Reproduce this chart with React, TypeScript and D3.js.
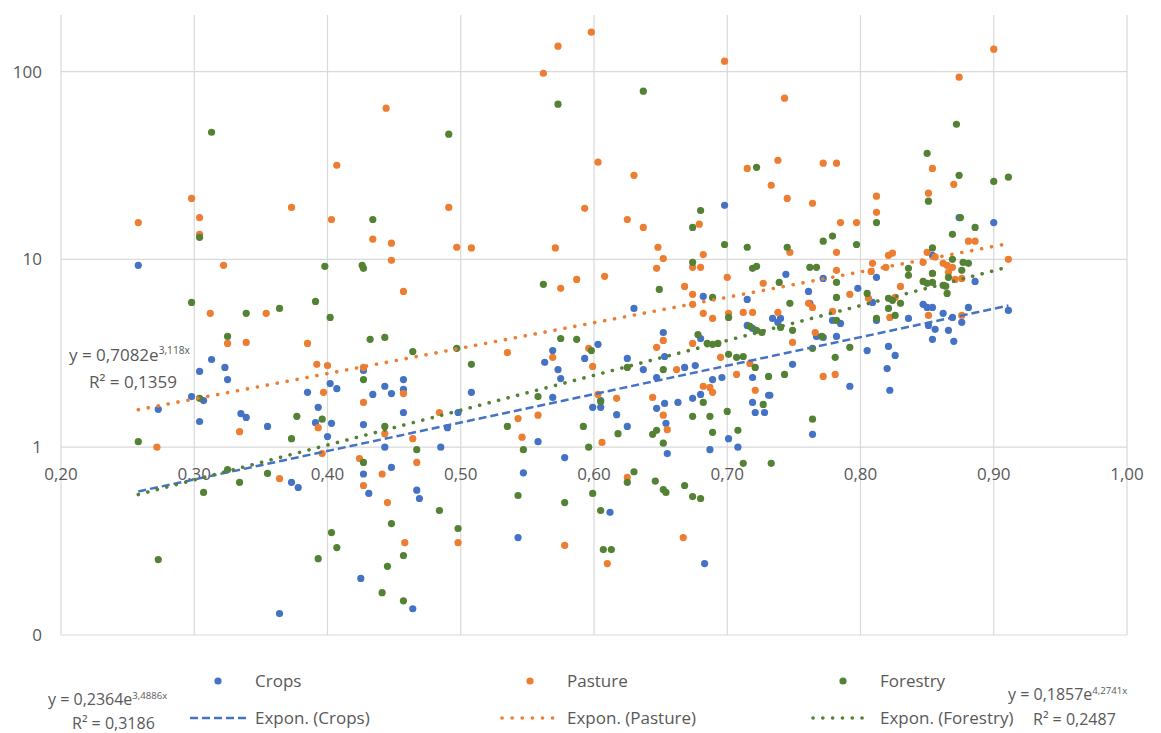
import React from "react";
import * as d3 from "d3";

// ---------- data ----------
const seriesNames = ["Crops", "Pasture", "Forestry"];
const xTickValues = [0.2, 0.3, 0.4, 0.5, 0.6, 0.7, 0.8, 0.9, 1.0];
const yTickValues = [0.1, 1, 10, 100];
const yTickLabels = ["0", "1", "10", "100"];

const crops: [number, number][] = [
  [0.258, 9.3], [0.273, 1.59], [0.313, 2.93], [0.304, 2.53], [0.323, 2.66], [0.325, 2.29],
  [0.298, 1.86], [0.307, 1.77], [0.304, 1.37], [0.335, 1.51], [0.339, 1.44], [0.355, 1.29],
  [0.385, 1.96], [0.402, 2.18], [0.407, 2.05], [0.393, 1.63], [0.391, 1.35], [0.403, 1.34],
  [0.4, 1.14], [0.373, 0.65], [0.378, 0.61], [0.364, 0.13], [0.425, 0.2], [0.431, 0.567],
  [0.427, 0.72], [0.448, 0.78], [0.443, 1.0], [0.427, 1.32], [0.434, 1.91], [0.443, 2.11],
  [0.448, 1.93], [0.427, 2.56], [0.457, 2.29], [0.457, 2.03], [0.457, 1.53], [0.485, 1.0],
  [0.49, 1.27], [0.498, 1.53], [0.508, 1.96], [0.467, 0.59], [0.469, 0.533], [0.464, 0.138],
  [0.558, 1.07], [0.547, 0.73], [0.543, 0.33], [0.578, 0.88], [0.569, 3.27], [0.563, 2.83],
  [0.573, 2.59], [0.575, 2.32], [0.569, 1.84], [0.603, 3.53], [0.593, 2.97], [0.625, 2.97],
  [0.63, 5.48], [0.637, 2.59], [0.605, 1.77], [0.599, 1.63], [0.605, 1.63], [0.617, 1.49],
  [0.625, 1.29], [0.612, 0.45], [0.652, 4.08], [0.653, 3.04], [0.647, 2.35], [0.647, 1.61],
  [0.653, 1.71], [0.654, 1.34], [0.655, 0.925], [0.668, 2.66], [0.676, 2.72], [0.663, 1.73],
  [0.674, 1.82], [0.68, 1.91], [0.682, 6.35], [0.68, 3.79], [0.689, 2.29], [0.696, 2.35],
  [0.687, 0.97], [0.701, 1.11], [0.708, 1.0], [0.683, 0.24], [0.698, 19.4], [0.715, 6.12],
  [0.719, 4.29], [0.715, 4.45], [0.734, 4.85], [0.738, 4.62], [0.719, 2.35], [0.719, 1.73],
  [0.721, 1.53], [0.728, 1.53], [0.731, 1.89], [0.744, 8.32], [0.772, 7.92], [0.74, 4.85],
  [0.761, 6.75], [0.762, 5.83], [0.749, 2.76], [0.732, 1.89], [0.764, 1.17], [0.779, 4.73],
  [0.785, 4.56], [0.767, 3.89], [0.772, 3.84], [0.782, 3.89], [0.792, 2.11], [0.798, 7.01],
  [0.805, 3.27], [0.812, 8.02], [0.809, 5.9], [0.812, 4.73], [0.821, 3.44], [0.826, 3.08],
  [0.82, 2.62], [0.822, 2.01], [0.836, 4.85], [0.847, 5.76], [0.854, 5.55], [0.85, 5.55],
  [0.862, 5.16], [0.869, 4.91], [0.876, 4.62], [0.881, 5.55], [0.851, 4.45], [0.856, 4.24],
  [0.866, 4.19], [0.854, 3.75], [0.87, 3.66], [0.886, 7.63], [0.854, 10.5], [0.874, 16.7],
  [0.9, 15.7], [0.911, 5.35],
];

const pasture: [number, number][] = [
  [0.258, 15.7], [0.272, 1.0], [0.298, 21.1], [0.304, 16.7], [0.304, 13.6], [0.312, 5.16],
  [0.325, 3.57], [0.339, 3.61], [0.322, 9.3], [0.334, 1.21], [0.373, 18.9], [0.385, 3.57],
  [0.354, 5.16], [0.364, 0.68], [0.392, 2.76], [0.4, 2.72], [0.397, 1.96], [0.393, 1.27],
  [0.396, 0.925], [0.403, 16.3], [0.407, 31.7], [0.434, 12.8], [0.448, 12.2], [0.444, 63.8],
  [0.448, 9.88], [0.457, 6.75], [0.424, 0.87], [0.427, 2.66], [0.427, 1.73], [0.427, 0.625],
  [0.441, 0.72], [0.445, 0.507], [0.443, 1.18], [0.457, 1.93], [0.464, 1.11], [0.467, 0.83],
  [0.458, 0.31], [0.484, 1.53], [0.491, 18.9], [0.497, 11.6], [0.508, 11.5], [0.498, 0.31],
  [0.535, 3.19], [0.543, 1.42], [0.546, 1.13], [0.558, 1.48], [0.562, 97.9], [0.573, 136.4],
  [0.571, 11.5], [0.575, 7.01], [0.587, 7.82], [0.569, 3.01], [0.578, 0.3], [0.593, 18.7],
  [0.598, 162], [0.603, 32.9], [0.608, 8.12], [0.596, 3.36], [0.599, 2.69], [0.603, 1.91],
  [0.617, 1.82], [0.606, 1.06], [0.61, 0.24], [0.625, 16.3], [0.63, 28.0], [0.637, 14.8],
  [0.625, 0.69], [0.647, 8.96], [0.652, 10.1], [0.648, 11.6], [0.652, 3.7], [0.647, 3.4],
  [0.644, 1.84], [0.652, 1.48], [0.655, 1.24], [0.662, 2.59], [0.668, 7.18], [0.674, 6.51],
  [0.674, 5.76], [0.674, 9.07], [0.68, 9.07], [0.682, 10.6], [0.679, 15.4], [0.682, 5.16],
  [0.689, 4.85], [0.674, 3.57], [0.682, 2.11], [0.687, 2.08], [0.689, 1.96], [0.667, 0.33],
  [0.698, 113.5], [0.7, 8.02], [0.701, 5.16], [0.695, 3.01], [0.707, 2.44], [0.712, 5.22],
  [0.719, 5.22], [0.717, 2.79], [0.721, 2.01], [0.715, 30.5], [0.733, 24.8], [0.738, 33.7],
  [0.743, 72.1], [0.745, 21.1], [0.764, 19.9], [0.772, 32.5], [0.782, 32.5], [0.738, 5.22],
  [0.747, 10.9], [0.727, 7.45], [0.749, 3.61], [0.761, 5.83], [0.764, 5.55], [0.766, 4.08],
  [0.772, 2.38], [0.781, 2.44], [0.779, 5.28], [0.782, 8.74], [0.782, 10.9], [0.785, 15.7],
  [0.797, 15.7], [0.792, 6.51], [0.806, 6.2], [0.808, 8.63], [0.809, 9.52], [0.812, 21.7],
  [0.812, 17.8], [0.819, 9.07], [0.821, 10.5], [0.824, 10.8], [0.83, 7.18], [0.826, 6.27],
  [0.822, 4.91], [0.847, 9.64], [0.85, 10.9], [0.851, 22.5], [0.854, 30.5], [0.856, 10.3],
  [0.862, 9.52], [0.865, 9.29], [0.869, 9.07], [0.866, 8.53], [0.854, 8.42], [0.876, 7.92],
  [0.871, 7.82], [0.851, 5.03], [0.876, 5.03], [0.87, 25.1], [0.874, 93.3], [0.881, 12.5],
  [0.886, 12.5], [0.9, 131.5], [0.911, 10.0],
];

const forestry: [number, number][] = [
  [0.258, 1.07], [0.273, 0.252], [0.298, 5.9], [0.304, 13.1], [0.304, 1.82], [0.313, 47.5],
  [0.307, 0.574], [0.325, 3.89], [0.325, 0.76], [0.334, 0.65], [0.339, 5.16], [0.355, 0.725],
  [0.364, 5.48], [0.373, 1.11], [0.377, 1.46], [0.391, 5.97], [0.398, 9.18], [0.402, 4.91],
  [0.393, 0.255], [0.396, 1.41], [0.403, 0.351], [0.407, 0.292], [0.427, 0.83], [0.427, 2.29],
  [0.432, 3.75], [0.443, 3.84], [0.434, 16.3], [0.426, 9.3], [0.427, 8.96], [0.441, 0.168],
  [0.445, 0.232], [0.448, 0.392], [0.443, 1.29], [0.457, 0.265], [0.457, 0.152], [0.464, 3.23],
  [0.467, 0.97], [0.484, 0.46], [0.491, 46.4], [0.497, 3.36], [0.498, 0.369], [0.508, 2.76],
  [0.535, 1.29], [0.547, 0.97], [0.543, 0.553], [0.562, 7.36], [0.573, 67.0], [0.575, 3.79],
  [0.587, 3.75], [0.558, 1.86], [0.578, 0.507], [0.592, 1.29], [0.598, 3.27], [0.596, 1.0],
  [0.599, 0.567], [0.605, 1.75], [0.605, 0.46], [0.607, 0.285], [0.613, 0.285], [0.618, 1.18],
  [0.625, 2.66], [0.63, 0.74], [0.625, 0.65], [0.637, 78.6], [0.649, 6.92], [0.652, 2.59],
  [0.652, 1.05], [0.644, 1.17], [0.647, 1.23], [0.646, 0.66], [0.652, 0.595], [0.654, 0.574],
  [0.668, 0.625], [0.674, 9.64], [0.674, 14.8], [0.68, 18.2], [0.678, 3.98], [0.685, 3.57],
  [0.689, 3.53], [0.693, 3.57], [0.689, 6.27], [0.682, 1.73], [0.674, 1.46], [0.687, 1.46],
  [0.7, 1.55], [0.689, 1.2], [0.674, 0.546], [0.68, 0.533], [0.698, 12.0], [0.715, 11.6],
  [0.701, 4.91], [0.701, 3.12], [0.707, 3.01], [0.712, 3.04], [0.708, 1.23], [0.712, 0.82],
  [0.719, 8.96], [0.722, 9.18], [0.722, 30.9], [0.717, 4.4], [0.722, 4.19], [0.726, 4.08],
  [0.721, 2.66], [0.731, 2.38], [0.727, 1.69], [0.733, 0.82], [0.745, 11.6], [0.739, 7.54],
  [0.74, 4.34], [0.749, 4.19], [0.747, 5.83], [0.743, 2.44], [0.762, 9.07], [0.767, 9.07],
  [0.772, 12.5], [0.779, 13.3], [0.764, 3.36], [0.764, 1.41], [0.771, 3.89], [0.782, 7.54],
  [0.782, 6.27], [0.782, 4.73], [0.781, 3.01], [0.792, 3.4], [0.797, 12.0], [0.805, 6.59],
  [0.812, 15.7], [0.812, 4.85], [0.821, 6.2], [0.824, 6.05], [0.821, 5.48], [0.83, 5.83],
  [0.826, 5.03], [0.836, 8.96], [0.836, 8.22], [0.847, 7.63], [0.854, 7.54], [0.85, 7.45],
  [0.851, 20.4], [0.85, 36.7], [0.854, 11.5], [0.854, 8.42], [0.862, 7.27], [0.864, 7.2],
  [0.866, 8.02], [0.865, 6.59], [0.869, 10.0], [0.877, 9.64], [0.881, 9.52], [0.876, 8.74],
  [0.869, 13.6], [0.872, 52.4], [0.874, 28.0], [0.875, 16.7], [0.886, 14.8], [0.9, 26.0],
  [0.911, 27.4],
];

// exponential trendline coefficients y = a * e^(b x), and R²
const trendA = [0.2364, 0.7082, 0.1857];
const trendB = [3.4886, 3.118, 4.2741];
const trendR2 = ["0,3186", "0,1359", "0,2487"];
const trendAText = ["0,2364", "0,7082", "0,1857"];
const trendBText = ["3,4886x", "3,118x", "4,2741x"];

const colors = ["#4472C4", "#ED7D31", "#548235"];

export default function App() {
  const W = 1161, H = 733;
  const x = d3.scaleLinear().domain([0.2, 1.0]).range([61, 1127]);
  const y = d3.scaleLog().domain([0.1, 200]).range([635, 15]);
  const all = [crops, pasture, forestry];
  const fmtX = (v: number) => d3.format(".2f")(v).replace(".", ",");
  const textColor = "#595959";
  const font = "'Open Sans', sans-serif";

  const trendPaths = all.map((data, i) => {
    const [x0, x1] = d3.extent(data, (d) => d[0]) as [number, number];
    const pts = d3.range(0, 21).map((k) => {
      const xv = x0 + ((x1 - x0) * k) / 20;
      return [xv, trendA[i] * Math.exp(trendB[i] * xv)] as [number, number];
    });
    return d3.line<[number, number]>().x((d) => x(d[0])).y((d) => y(d[1]))(pts) || "";
  });

  const trendStyles = [
    { strokeDasharray: "8 4", strokeLinecap: "butt" as const, strokeWidth: 2.5 },
    { strokeDasharray: "0.1 10", strokeLinecap: "round" as const, strokeWidth: 3.6 },
    { strokeDasharray: "0.1 9.7", strokeLinecap: "round" as const, strokeWidth: 3.6 },
  ];

  // legend layout
  const legendMarkerX = [218, 530, 843];
  const legendTextX = [255, 567, 880];
  const legendLineX = [[190, 248], [502, 556], [813, 868]];
  const row1 = 681, row2 = 718;

  // equation label positions (x, y of first line)
  const eqPos = [
    { x: 48, y: 705, size: 16, rx: 72, gap: 24 },
    { x: 69, y: 361, size: 17, rx: 89, gap: 27 },
    { x: 1008, y: 700, size: 16, rx: 1033, gap: 25 },
  ];

  return (
    <svg width={W} height={H} style={{ position: "absolute", left: 0, top: 0, background: "#fff" }} fontFamily={font}>
      <rect width={W} height={H} fill="#fff" />
      {/* vertical gridlines */}
      {xTickValues.map((v) => (
        <line key={"vx" + v} x1={x(v)} x2={x(v)} y1={y(0.1)} y2={y(200)} stroke="#D9D9D9" strokeWidth={1.2} />
      ))}
      {/* horizontal gridlines */}
      {yTickValues.map((v) => (
        <line key={"hy" + v} x1={x(0.2)} x2={x(1.0)} y1={y(v)} y2={y(v)} stroke="#D9D9D9" strokeWidth={1.2} />
      ))}
      {/* y labels */}
      {yTickValues.map((v, i) => (
        <text key={"yl" + v} x={42} y={y(v) + 6} textAnchor="end" fontSize={17} fill={textColor}>
          {yTickLabels[i]}
        </text>
      ))}
      {/* x labels */}
      {xTickValues.map((v) => (
        <text key={"xl" + v} x={x(v)} y={y(1) + 33} textAnchor="middle" fontSize={17} fill={textColor}>
          {fmtX(v)}
        </text>
      ))}
      {/* points */}
      {all.map((data, i) => (
        <g key={"s" + i}>
          {data.map((d, j) => (
            <circle key={j} cx={x(d[0])} cy={y(d[1])} r={3.6} fill={colors[i]} />
          ))}
        </g>
      ))}
      {/* trendlines */}
      {trendPaths.map((p, i) => (
        <path key={"t" + i} d={p} fill="none" stroke={colors[i]} {...trendStyles[i]} />
      ))}
      {/* equations */}
      {eqPos.map((e, i) => (
        <g key={"eq" + i} fill={textColor}>
          <text x={e.x} y={e.y} fontSize={e.size}>
            {"y = " + trendAText[i] + "e"}
            <tspan fontSize={e.size * 0.6} dy={-e.size * 0.4}>{trendBText[i]}</tspan>
          </text>
          <text x={e.rx} y={e.y + e.gap} fontSize={e.size}>
            {"R² = " + trendR2[i]}
          </text>
        </g>
      ))}
      {/* legend */}
      {seriesNames.map((n, i) => (
        <g key={"lg" + i}>
          <circle cx={legendMarkerX[i]} cy={row1} r={3.6} fill={colors[i]} />
          <text x={legendTextX[i]} y={row1 + 6} fontSize={17} fill={textColor}>{n}</text>
          <line x1={legendLineX[i][0]} x2={legendLineX[i][1]} y1={row2} y2={row2} stroke={colors[i]} {...trendStyles[i]} />
          <text x={legendTextX[i]} y={row2 + 6} fontSize={17} fill={textColor}>{"Expon. (" + n + ")"}</text>
        </g>
      ))}
    </svg>
  );
}
